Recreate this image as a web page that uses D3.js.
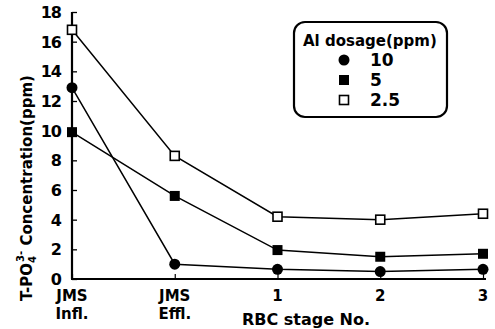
<!DOCTYPE html>
<html>
<head>
<meta charset="utf-8">
<script src="https://cdn.jsdelivr.net/npm/d3@7"></script>
<style>
  html, body { margin: 0; padding: 0; background: #fff; }
  svg { display: block; }
  text { font-family: "DejaVu Sans", sans-serif; font-weight: bold; fill: #000; }
</style>
</head>
<body>
<svg id="chart" width="495" height="329"></svg>
<script>
// Sampling points along the treatment train
const stages = ["JMS Infl.", "JMS Effl.", "1", "2", "3"];
const stageLabels = [["JMS", "Infl."], ["JMS", "Effl."], ["1"], ["2"], ["3"]];

// T-PO4 concentration (ppm) for each Al dosage
const dose10 = [12.9, 1.0, 0.65, 0.5, 0.65];
const dose5 = [9.9, 5.6, 1.95, 1.5, 1.7];
const dose25 = [16.8, 8.3, 4.2, 4.0, 4.4];

const yTicks = [0, 2, 4, 6, 8, 10, 12, 14, 16, 18];

const series = [
  { name: "10", values: dose10, marker: "circle" },
  { name: "5", values: dose5, marker: "filled" },
  { name: "2.5", values: dose25, marker: "open" }
];

const svg = d3.select("#chart");

const x = d3.scalePoint().domain(stages).range([72, 483]);
const y = d3.scaleLinear().domain([0, 18]).range([279, 12]);

// Y axis with inward ticks
const yAxis = svg.append("g").attr("transform", "translate(72,0)")
  .call(d3.axisRight(y).tickValues(yTicks).tickSize(5).tickFormat(""));
yAxis.select(".domain").attr("stroke", "#000").attr("stroke-width", 2.2)
  .attr("d", `M0,${y(18)}V${y(0)}`);
yAxis.selectAll(".tick line").attr("stroke", "#000").attr("stroke-width", 1.3);

svg.append("g").selectAll("text").data(yTicks).join("text")
  .attr("x", 61).attr("y", d => y(d) + 6)
  .attr("text-anchor", "end")
  .attr("font-size", 16)
  .attr("letter-spacing", -1)
  .text(d => d);

// X axis with short upward ticks
const xAxis = svg.append("g").attr("transform", "translate(0,279)")
  .call(d3.axisTop(x).tickSize(5).tickFormat(""));
xAxis.select(".domain").attr("stroke", "#000").attr("stroke-width", 2)
  .attr("d", `M71,0H486`);
xAxis.selectAll(".tick line").attr("stroke", "#000").attr("stroke-width", 1.2);

const xl = svg.append("g").selectAll("text").data(stages).join("text")
  .attr("text-anchor", "middle")
  .attr("font-size", 15);
xl.each(function(d, i) {
  const t = d3.select(this);
  stageLabels[i].forEach((s, j) => {
    t.append("tspan").attr("x", x(d)).attr("y", 301 + j * 18).text(s);
  });
});

svg.append("text")
  .attr("x", 306).attr("y", 325)
  .attr("text-anchor", "middle")
  .attr("font-size", 16)
  .text("RBC stage No.");

// Y axis title
const yt = svg.append("text")
  .attr("transform", "translate(32,188) rotate(-90)")
  .attr("text-anchor", "middle")
  .attr("font-size", 15);
yt.append("tspan").text("T-PO");
yt.append("tspan").attr("font-size", 10).attr("dy", 4).text("4");
yt.append("tspan").attr("font-size", 10).attr("dx", -6).attr("dy", -12).text("3-");
yt.append("tspan").attr("dy", 8).text(" Concentration(ppm)");

// Lines
const line = d3.line().x((d, i) => x(stages[i])).y(d => y(d));
svg.append("g").selectAll("path").data(series).join("path")
  .attr("d", d => line(d.values))
  .attr("fill", "none").attr("stroke", "#000").attr("stroke-width", 1.5);

// Markers
function drawMarker(g, type, cx, cy) {
  if (type === "circle") {
    g.append("circle").attr("cx", cx).attr("cy", cy).attr("r", 5.5).attr("fill", "#000");
  } else if (type === "filled") {
    g.append("rect").attr("x", cx - 5).attr("y", cy - 5).attr("width", 10).attr("height", 10)
      .attr("fill", "#000");
  } else {
    g.append("rect").attr("x", cx - 4.5).attr("y", cy - 4.5).attr("width", 9).attr("height", 9)
      .attr("fill", "#fff").attr("stroke", "#000").attr("stroke-width", 1.6);
  }
}
const mg = svg.append("g");
series.forEach(s => {
  s.values.forEach((v, i) => drawMarker(mg, s.marker, x(stages[i]), y(v)));
});

// Legend
const lg = svg.append("g");
lg.append("rect").attr("x", 294).attr("y", 22).attr("width", 153).attr("height", 95)
  .attr("rx", 11).attr("fill", "#fff").attr("stroke", "#000").attr("stroke-width", 2.2);
lg.append("text").attr("x", 303).attr("y", 46).attr("font-size", 15).text("Al dosage(ppm)");
series.forEach((s, i) => {
  const cy = 60 + i * 20;
  drawMarker(lg, s.marker, 344, cy);
  lg.append("text").attr("x", 370).attr("y", cy + 6).attr("font-size", 17).text(s.name);
});
</script>
</body>
</html>
